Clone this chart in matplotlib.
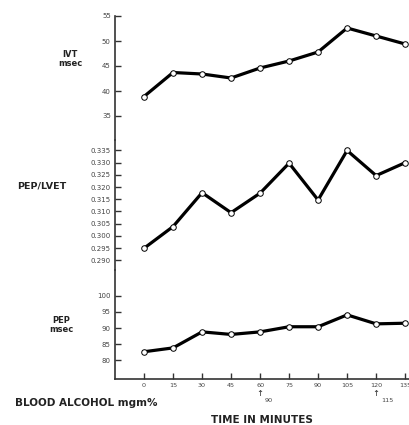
import matplotlib

matplotlib.use("Agg")
import matplotlib.pyplot as plt
from matplotlib.transforms import blended_transform_factory

minutes = [0, 15, 30, 45, 60, 75, 90, 105, 120, 135]
ivt = [38.9, 43.7, 43.4, 42.6, 44.6, 46.0, 47.8, 52.6, 51.0, 49.4]
pep_lvet = [0.2949, 0.3038, 0.3177, 0.3095, 0.3175, 0.3298, 0.3147, 0.3350, 0.3247, 0.3300]
pep = [82.6, 83.8, 88.8, 88.0, 88.8, 90.4, 90.4, 94.1, 91.3, 91.5]

ivt_ticks = [35, 40, 45, 50, 55]
ratio_ticks = [0.290, 0.295, 0.300, 0.305, 0.310, 0.315, 0.320, 0.325, 0.330, 0.335]
pep_ticks = [80, 85, 90, 95, 100]
time_labels = ["0", "15", "30", "45", "60", "75", "90", "105", "120", "135"]
# blood alcohol readings marked under the time axis
alcohol_at = [60, 120]
alcohol_mgm = ["90", "115"]

W, H = 409, 425
fig = plt.figure(figsize=(W / 100, H / 100), dpi=100)
fig.patch.set_facecolor("white")

FONT = "DejaVu Sans"
TXT = "#222222"


def _panel(top_px, bot_px):
    ax = fig.add_axes([115 / W, 1 - bot_px / H, (W - 115) / W, (bot_px - top_px) / H])
    ax.set_facecolor("none")
    for side in ("top", "right", "bottom"):
        ax.spines[side].set_visible(False)
    ax.spines["left"].set_linewidth(1.2)
    ax.spines["left"].set_color("#333333")
    ax.set_xlim(-15, 137)
    ax.set_xticks([])
    ax.tick_params(axis="y", direction="in", length=4, width=1, pad=3,
                   labelsize=5, colors="#333333", labelcolor="#444444")
    return ax


def _series(ax, y):
    ax.plot(minutes, y, "-", color="black", linewidth=2.3, zorder=2,
            marker="o", markersize=4, markerfacecolor="white",
            markeredgecolor="black", markeredgewidth=0.7)


ax1 = _panel(16, 140)
ax1.set_ylim(30.2, 55)
ax1.set_yticks(ivt_ticks)
ax1.set_yticklabels([str(v) for v in ivt_ticks])
_series(ax1, ivt)

ax2 = _panel(140, 270)
ax2.set_ylim(0.286, 0.3393)
ax2.set_yticks(ratio_ticks)
ax2.set_yticklabels([f"{v:.3f}" for v in ratio_ticks])
_series(ax2, pep_lvet)

ax3 = _panel(270, 379)
ax3.set_ylim(74.1, 108.1)
ax3.set_yticks(pep_ticks)
ax3.set_yticklabels([str(v) for v in pep_ticks])
ax3.spines["bottom"].set_visible(True)
ax3.spines["bottom"].set_linewidth(1.2)
ax3.spines["bottom"].set_color("#333333")
ax3.set_xticks(minutes)
ax3.set_xticklabels(time_labels)
ax3.tick_params(axis="x", direction="in", length=4, width=1, pad=3,
                labelsize=4.6, colors="#333333", labelcolor="#444444")
_series(ax3, pep)


# panel labels
def _fig_text(x_px, y_px, s, size=5.5, ha="center"):
    fig.text(x_px / W, 1 - y_px / H, s, ha=ha, va="center", fontsize=size,
             fontweight="bold", color=TXT, family=FONT, linespacing=1.1)


_fig_text(70, 59, "IVT\nmsec", size=6)
_fig_text(42, 186, "PEP/LVET", size=6.8)
_fig_text(61, 325, "PEP\nmsec", size=6)
_fig_text(15, 403, "BLOOD ALCOHOL mgm%", size=7.5, ha="left")
_fig_text(262, 420, "TIME IN MINUTES", size=7.5)

tr = blended_transform_factory(ax3.transData, fig.transFigure)
for t, mg in zip(alcohol_at, alcohol_mgm):
    ax3.text(t, 1 - 394 / H, "\u2191", transform=tr, ha="center", va="center",
             fontsize=6, color=TXT, family=FONT)
    ax3.text(t + 2.5, 1 - 401 / H, mg, transform=tr, ha="left", va="center",
             fontsize=4.6, color="#444444", family=FONT)

fig.savefig("out.png", dpi=100)
